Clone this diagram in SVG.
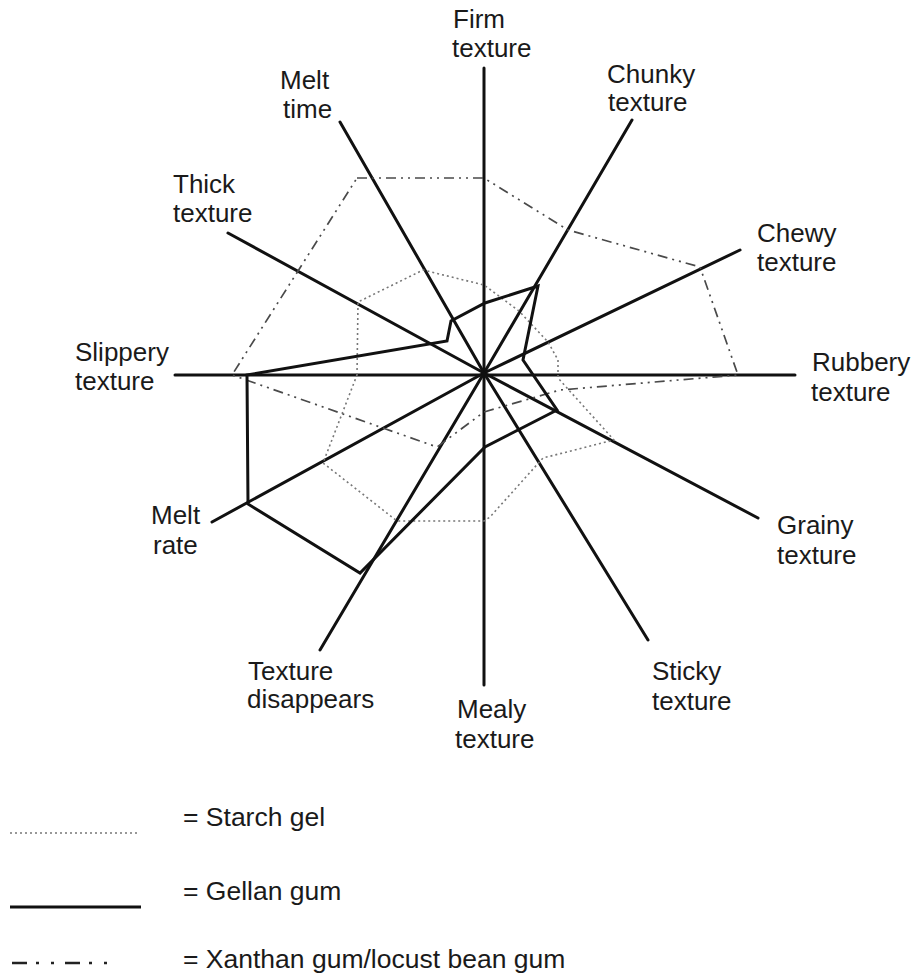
<svg xmlns="http://www.w3.org/2000/svg" width="917" height="980" viewBox="0 0 917 980">
<style>
text{font-family:"Liberation Sans",Arial,sans-serif;font-size:26px;fill:#1a1a1a}
.legend text{font-size:26.5px}
.axis{stroke:#111;stroke-width:3;stroke-linecap:round;fill:none}
.gellan{stroke:#111;stroke-width:3;fill:none;stroke-linejoin:miter}
.starch{stroke:#777;stroke-width:1.6;stroke-dasharray:2 3;fill:none}
.xanthan{stroke:#4a4a4a;stroke-width:1.7;stroke-dasharray:10 5 2 5 2 5;fill:none}
</style>
<rect width="917" height="980" fill="#fff"/>
<g id="connectors">
<g id="axes">
<line class="axis" x1="484" y1="68" x2="484" y2="685"/>
<line class="axis" x1="175" y1="375" x2="795" y2="375"/>
<line class="axis" x1="484" y1="373" x2="340" y2="122"/>
<line class="axis" x1="484" y1="373" x2="632" y2="120"/>
<line class="axis" x1="484" y1="373" x2="740" y2="250"/>
<line class="axis" x1="484" y1="373" x2="228" y2="233"/>
<line class="axis" x1="484" y1="373" x2="212" y2="522"/>
<line class="axis" x1="484" y1="373" x2="758" y2="518"/>
<line class="axis" x1="484" y1="373" x2="320" y2="650"/>
<line class="axis" x1="484" y1="373" x2="648" y2="640"/>
</g>
<polygon id="starch-gel" class="starch" points="357,375 358,302 423,270 484,285 519,311 548,342 558,360 558,378 614,440 543,458 490,517 484,521 397,521 323,463"/>
<polygon id="xanthan-gum" class="xanthan" points="357,178 484,178 568,230 700,267 738,375 560,390 484,412 437,447 232,375"/>
<polygon id="gellan-gum" class="gellan" points="247,375 447,341 451,321 485,303 538,286 523,360 557,410 485,447 360,573 248,504"/>
</g>
<g id="label-firm"><text x="453" y="28">Firm</text><text x="452" y="57">texture</text></g>
<g id="label-melt-time"><text x="280" y="89">Melt</text><text x="283" y="118">time</text></g>
<g id="label-chunky"><text x="607" y="83">Chunky</text><text x="608" y="111">texture</text></g>
<g id="label-thick"><text x="173" y="193">Thick</text><text x="173" y="222">texture</text></g>
<g id="label-chewy"><text x="757" y="242">Chewy</text><text x="757" y="271">texture</text></g>
<g id="label-slippery"><text x="75" y="361">Slippery</text><text x="75" y="390">texture</text></g>
<g id="label-rubbery"><text x="812" y="371">Rubbery</text><text x="811" y="401">texture</text></g>
<g id="label-melt-rate"><text x="151" y="524">Melt</text><text x="153" y="554">rate</text></g>
<g id="label-grainy"><text x="777" y="534">Grainy</text><text x="777" y="564">texture</text></g>
<g id="label-texture-disappears"><text x="248" y="680">Texture</text><text x="247" y="708">disappears</text></g>
<g id="label-sticky"><text x="652" y="680">Sticky</text><text x="652" y="710">texture</text></g>
<g id="label-mealy"><text x="457" y="718">Mealy</text><text x="455" y="748">texture</text></g>
<g id="legend" class="legend">
<line class="starch" x1="10" y1="833" x2="140" y2="833"/>
<text x="183" y="826">= Starch gel</text>
<line class="gellan" x1="10" y1="907" x2="141" y2="907"/>
<text x="183" y="900">= Gellan gum</text>
<line x1="12" y1="963" x2="115" y2="963" style="stroke:#222;stroke-width:2.5;stroke-dasharray:15 9 3 12 3 11;fill:none"/>
<text x="183" y="968">= Xanthan gum/locust bean gum</text>
</g>
</svg>
